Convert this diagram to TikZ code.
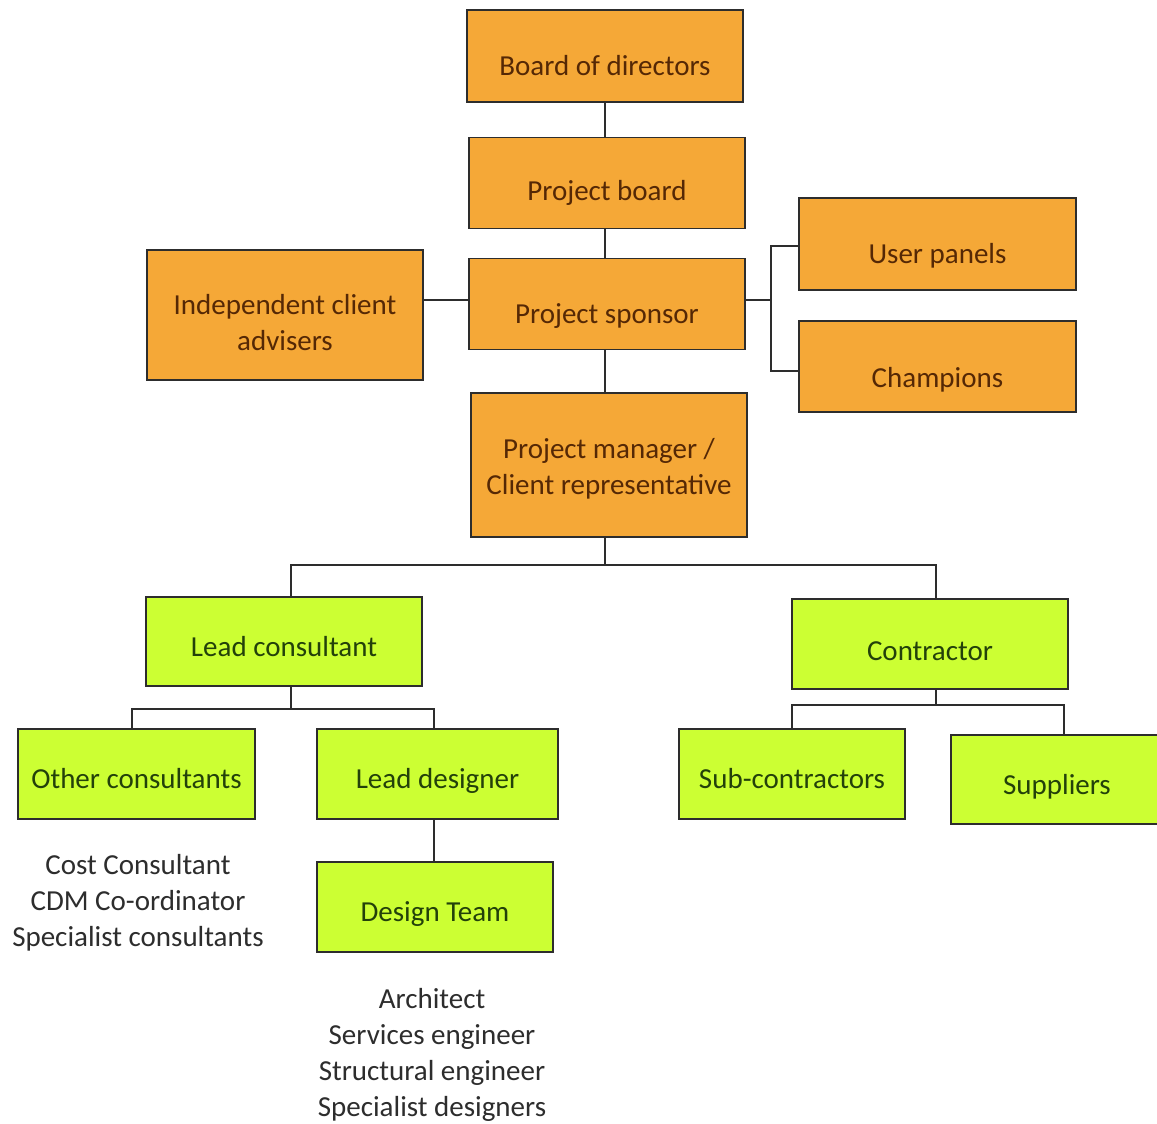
\documentclass[tikz,border=0pt]{standalone}
\usepackage{fontspec}
\setmainfont{Carlito}
\definecolor{orfill}{RGB}{245,168,55}
\definecolor{ortext}{RGB}{85,40,5}
\definecolor{grfill}{RGB}{204,255,51}
\definecolor{grtext}{RGB}{35,65,10}
\definecolor{edge}{RGB}{45,45,45}
\definecolor{note}{RGB}{45,45,45}
\begin{document}
\begin{tikzpicture}[x=1pt,y=-1pt,
  box/.style={draw=edge,line width=1.6pt,rectangle,inner sep=0pt},
  obox/.style={box,fill=orfill},
  gbox/.style={box,fill=grfill},
  otxt/.style={align=center,text=ortext,inner sep=0pt,font=\fontsize{29}{36}\selectfont},
  gtxt/.style={align=center,text=grtext,inner sep=0pt,font=\fontsize{29}{36}\selectfont},
  link/.style={draw=edge,line width=1.6pt},
  notes/.style={align=center,text=note,font=\fontsize{29}{36}\selectfont,inner sep=0pt}]
\useasboundingbox[fill=white] (0,0) rectangle (1157,1124);
% orange boxes
\node[obox,minimum width=276,minimum height=92,label={[otxt,yshift=-10pt]center:Board of directors}] (board) at (605,56) {};
\node[obox,minimum width=276,minimum height=91,label={[otxt,yshift=-10pt]center:Project board}] (pb) at (607,183) {};
\node[obox,minimum width=276,minimum height=91,label={[otxt,yshift=-12pt]center:Project sponsor}] (ps) at (607,304) {};
\node[obox,minimum width=276,minimum height=130,label={[otxt,yshift=-8pt]center:Independent client\\advisers}] (ica) at (285,315) {};
\node[obox,minimum width=277,minimum height=92,label={[otxt,yshift=-12pt]center:User panels}] (up) at (937.5,244) {};
\node[obox,minimum width=277,minimum height=91,label={[otxt,yshift=-13pt]center:Champions}] (ch) at (937.5,366.5) {};
\node[obox,minimum width=276,minimum height=144,label={[otxt,yshift=-4pt]center:Project manager /\\Client representative}] (pm) at (609,465) {};
% green boxes
\node[gbox,minimum width=276,minimum height=89,label={[gtxt,yshift=-5pt]center:Lead consultant}] (lc) at (284,641.5) {};
\node[gbox,minimum width=276,minimum height=90,label={[gtxt,yshift=-7pt]center:Contractor}] (con) at (930,644) {};
\node[gbox,minimum width=237,minimum height=90,label={[gtxt,yshift=-5pt]center:Other consultants}] (oc) at (136.5,774) {};
\node[gbox,minimum width=241,minimum height=90,label={[gtxt,yshift=-7pt]center:Lead designer}] (ld) at (437.5,774) {};
\node[gbox,minimum width=236,minimum height=90,label={[gtxt,yshift=-7pt]center:Design Team}] (dt) at (435,907) {};
\node[gbox,minimum width=226,minimum height=90,label={[gtxt,yshift=-5pt]center:Sub-contractors}] (sc) at (792,774) {};
\node[gbox,minimum width=212,minimum height=89,label={[gtxt,yshift=-7pt]center:Suppliers}] (sup) at (1057,779.5) {};
% notes
\node[notes] (ocnote) at (138,903) {Cost Consultant\\CDM Co-ordinator\\Specialist consultants};
\node[notes] (dtnote) at (432,1055) {Architect\\Services engineer\\Structural engineer\\Specialist designers};
% junctions
\coordinate (jps) at (771,300);
\coordinate (jpm) at (605,565);
\coordinate (jlc) at (291,709);
\coordinate (jcon) at (936,705);
% connectors
\draw[link] (board.south -| 605,0) -- (pb.north -| 605,0);
\draw[link] (pb.south -| 605,0) -- (ps.north -| 605,0);
\draw[link] (ps.south -| 605,0) -- (pm.north -| 605,0);
\draw[link] (ps.west |- 0,300) -- (ica.east |- 0,300);
\draw[link] (ps.east |- jps) -- (jps);
\draw[link] (up.west |- 0,246) -| (jps) |- (ch.west |- 0,371);
\draw[link] (pm.south -| jpm) -- (jpm);
\draw[link] (lc.north -| jlc) |- (jpm) -| (con.north -| jcon);
\draw[link] (lc.south -| jlc) -- (jlc);
\draw[link] (oc.north -| 132,0) |- (jlc) -| (ld.north -| 434,0);
\draw[link] (ld.south -| 434,0) -- (dt.north -| 434,0);
\draw[link] (con.south -| jcon) -- (jcon);
\draw[link] (sc.north -| 792,0) |- (jcon) -| (sup.north -| 1064,0);
\end{tikzpicture}
\end{document}
